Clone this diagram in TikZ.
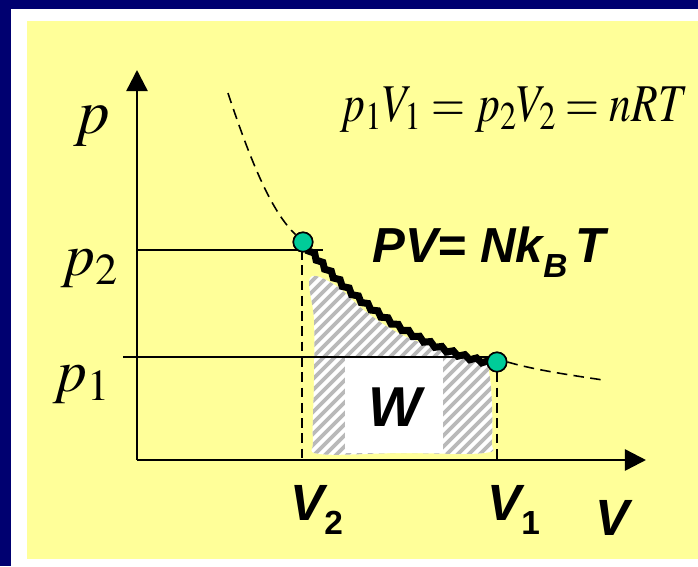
\documentclass[tikz,border=0pt]{standalone}
\usepackage{mathptmx}
\usepackage{fontspec}
\newfontfamily\arialf{Liberation Sans}
\usetikzlibrary{arrows.meta,decorations.pathmorphing}
\definecolor{navy}{RGB}{0,0,112}
\definecolor{slide}{RGB}{255,255,153}
\definecolor{tealdot}{RGB}{0,204,153}
\definecolor{hatchgray}{RGB}{185,185,185}
\newcommand\vlab[2]{#1\raisebox{-8.5pt}{\fontsize{19}{19}\selectfont\upshape #2}}
\begin{document}
\begin{tikzpicture}[x=0.02cm,y=-0.02cm,
  axis/.style={line width=1.4pt,-{Triangle[length=12pt,width=12pt]}},
  guide/.style={line width=1.1pt},
  drop/.style={line width=1.1pt,dash pattern=on 5.5pt off 3.2pt},
  iso/.style={line width=0.9pt,dash pattern=on 6pt off 3.6pt},
  work/.style={line width=4pt,decorate,
    decoration={snake,amplitude=1pt,segment length=7pt}},
  dot/.style={circle,draw,fill=tealdot,line width=0.9pt,minimum size=11pt,inner sep=0pt},
  sans/.style={inner sep=0pt,font=\arialf\bfseries\itshape},
  serif/.style={inner sep=0pt}]
  % frame
  \useasboundingbox (0,0) rectangle (698,566);
  \fill[navy] (0,0) rectangle (698,566);
  \fill[white] (11,9) rectangle (698,566);
  \fill[slide] (27,21) rectangle (698,559);
  % work area
  \begin{scope}
    \clip plot[smooth cycle,tension=0.6] coordinates {(310,278) (335,285) (365,311)
      (400,334) (440,349) (480,360) (490,378) (492,440) (484,453) (400,453)
      (320,454) (313,440) (314,380) (314,320)};
    \fill[white] (300,260) rectangle (500,460);
    \foreach \i in {90,101,...,500}
      \draw[hatchgray,line width=2.2pt] (\i,470) -- (\i+220,250);
  \end{scope}
  \fill[white] (345,357) rectangle (443,453);
  % axes
  \coordinate (O) at (137,460);
  \coordinate (ytip) at (137,70);
  \coordinate (xtip) at (646,460);
  \draw[axis] (O) -- (ytip);
  \draw[axis] (O) -- (xtip);
  % states
  \node[dot] (A) at (303,242) {};
  \node[dot] (B) at (497,362) {};
  \coordinate (p2ax) at (138,250);
  \coordinate (p2end) at (323,250);
  \coordinate (p1ax) at (123,357);
  \coordinate (p1end) at (490,357);
  \coordinate (V2ax) at (302,460);
  \coordinate (V1ax) at (497,460);
  \coordinate (isotop) at (228,93);
  \coordinate (isoend) at (603,380);
  \draw[guide] (p2ax) -- (p2end);
  \draw[guide] (p1ax) -- (p1end);
  \draw[drop] (302,250) -- (V2ax);
  \draw[drop] (B.south) -- (V1ax);
  \draw[iso] (isotop) .. controls (255,175) and (275,215) .. (A.north west);
  \draw[iso] (B.east) .. controls (535,370) and (570,375) .. (isoend);
  \draw[work] (A.center) .. controls (350,300) and (420,350) .. (B.center);
  \node[dot] at (A) {};
  \node[dot] at (B) {};
  % labels
  \node[serif,anchor=base west,font=\fontsize{27}{30}\selectfont] (law) at (340,121)
    {\scalebox{0.92}[1.12]{$p_1V_1 = p_2V_2 = nRT$}};
  \node[serif,anchor=base west,font=\fontsize{36}{40}\selectfont] (plab) at (73,133) {$p$};
  \node[serif,anchor=base east,font=\fontsize{34}{40}\selectfont] (p2lab) at (119,275) {$p_2$};
  \node[serif,anchor=base east,font=\fontsize{34}{40}\selectfont] (p1lab) at (111,391) {$p_1$};
  \node[sans,anchor=base west,font=\fontsize{28}{30}\selectfont\arialf\bfseries\itshape] (gas) at (372,262)
    {PV= Nk\raisebox{-9pt}{\fontsize{19}{19}\selectfont B}\,T};
  \node[sans,anchor=base,font=\fontsize{32}{34}\selectfont\arialf\bfseries\itshape] (W) at (395,426) {W};
  \node[sans,anchor=base west,font=\fontsize{29}{30}\selectfont\arialf\bfseries\itshape] (V2lab) at (290,520) {\vlab{V}{2}};
  \node[sans,anchor=base west,font=\fontsize{29}{30}\selectfont\arialf\bfseries\itshape] (V1lab) at (487,520) {\vlab{V}{1}};
  \node[sans,anchor=base west,font=\fontsize{29}{30}\selectfont\arialf\bfseries\itshape] (Vlab) at (595,535) {V};
\end{tikzpicture}
\end{document}
